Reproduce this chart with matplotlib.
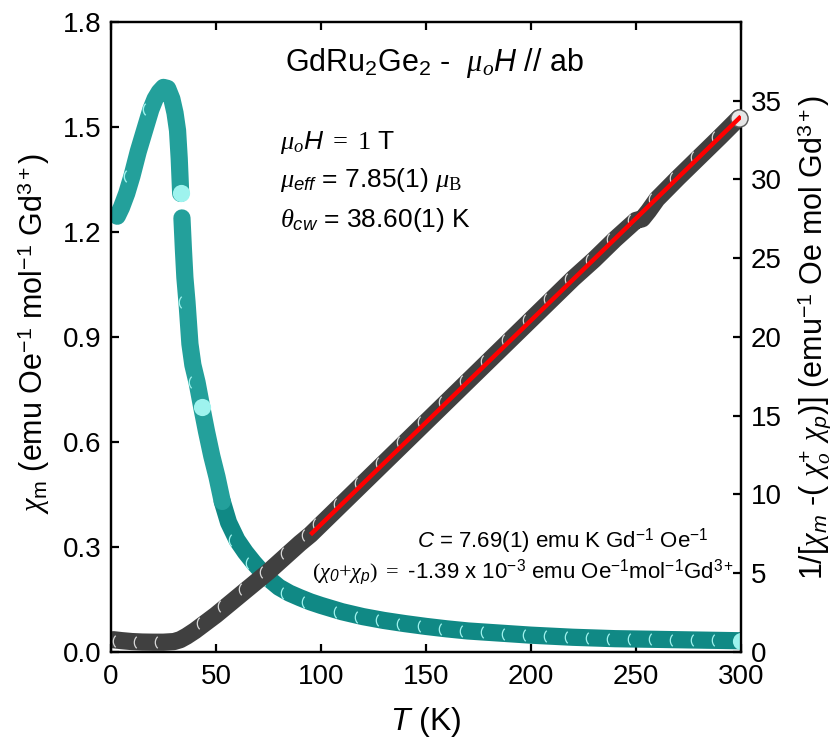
import numpy as np
import matplotlib
matplotlib.use("Agg")
import matplotlib.pyplot as plt
from matplotlib.path import Path

plt.rcParams['font.family'] = ['Liberation Sans', 'DejaVu Sans']
plt.rcParams['mathtext.fontset'] = 'custom'
plt.rcParams['mathtext.rm'] = 'Liberation Sans'
plt.rcParams['mathtext.it'] = 'Liberation Serif:italic'
plt.rcParams['mathtext.sf'] = 'Liberation Sans:italic'
plt.rcParams['mathtext.bf'] = 'Liberation Serif'

# chi_m below the ordering transition (left axis)
ord_T = [3, 5, 7.5, 10, 13, 16, 19, 21, 23, 25, 27, 29, 30.5, 31.7, 32.5, 33.2]
ord_chi = [1.245, 1.27, 1.31, 1.36, 1.43, 1.49, 1.55, 1.58, 1.60, 1.613,
           1.61, 1.58, 1.54, 1.49, 1.41, 1.31]

# chi_m above the transition (left axis)
para_T = [33.8, 34.5, 35.2, 36.2, 37.6, 39, 41, 43.2, 45.5, 48, 50.5, 53, 56,
          60, 64, 68, 72, 76, 80, 85, 90, 95, 100, 110, 120, 130, 140, 150,
          160, 170, 180, 190, 200, 210, 220, 230, 240, 250, 260, 270, 280,
          290, 300]
para_chi = [1.24, 1.15, 1.07, 1.0, 0.88, 0.82, 0.77, 0.70, 0.63, 0.56, 0.50,
            0.43, 0.37, 0.32, 0.285, 0.255, 0.228, 0.205, 0.185, 0.168, 0.155,
            0.143, 0.133, 0.115, 0.101, 0.09, 0.081, 0.073, 0.066, 0.06,
            0.056, 0.052, 0.048, 0.045, 0.042, 0.04, 0.038, 0.037, 0.036,
            0.035, 0.034, 0.033, 0.032]

# inverse susceptibility (right axis)
inv_T = [1, 5, 10, 15, 20, 25, 30, 33, 36, 40, 45, 50, 55, 60, 65, 70, 75,
         80, 85, 90, 95, 100, 110, 120, 130, 140, 150, 160, 170, 180, 190,
         200, 210, 220, 230, 240, 250, 253, 256, 260, 270, 280, 290, 299]
inv_chi = [0.78, 0.72, 0.66, 0.63, 0.62, 0.62, 0.66, 0.78, 1.0, 1.35, 1.85,
           2.35, 2.9, 3.45, 4.0, 4.55, 5.1, 5.7, 6.3, 6.9, 7.45, 8.1, 9.4,
           10.7, 12.0, 13.3, 14.6, 15.9, 17.2, 18.5, 19.8, 21.1, 22.4, 23.7,
           24.9, 26.2, 27.4, 27.5, 28.0, 28.75, 30.1, 31.4, 32.7, 33.9]

# Curie-Weiss fit
fit_T = [95, 300]
fit_inv = [7.45, 34.0]

ord_T, ord_chi = np.array(ord_T), np.array(ord_chi)
para_T, para_chi = np.array(para_T), np.array(para_chi)
inv_T, inv_chi = np.array(inv_T), np.array(inv_chi)

teal = '#108985'
teal_lt = '#23a09b'
teal_hi = '#9ef3ee'
grey = '#404040'
grey_hi = '#d9d9d9'
D = 12.4  # marker diameter in points

# "(" shaped glint drawn on the left rim of a marker
ang = np.radians(np.linspace(135, 225, 20))
glint = Path(np.column_stack([np.cos(ang), np.sin(ang)]))

fig = plt.figure(figsize=(8.4, 7.44), dpi=100)
ax = fig.add_axes([0.1321, 0.1237, 0.75, 0.8468])
ax2 = ax.twinx()

# susceptibility tube; the steep part near the transition is densely sampled
# and looks lighter
tube = dict(lw=D, solid_capstyle='round', solid_joinstyle='round', zorder=2)
steep = para_T <= 53
ax.plot(ord_T, ord_chi, color=teal_lt, **tube)
ax.plot(para_T[~steep | (para_T == 53)], para_chi[~steep | (para_T == 53)],
        color=teal, **tube)
ax.plot(para_T[steep], para_chi[steep], color=teal_lt, **tube)
ax.plot(ord_T[-1], ord_chi[-1], 'o', ms=D, mfc=teal_hi, mec='none', zorder=3)
ax.plot(para_T[[7, -1]], para_chi[[7, -1]], 'o', ms=D, mfc=teal_hi,
        mec='none', zorder=3)
ord_glint = np.isin(ord_T, [10, 19])
para_glint = np.isin(para_T, [36.2, 41, 60, 68, 76, 85, 95]) | (para_T >= 110)
ax.plot(ord_T[ord_glint], ord_chi[ord_glint], ls='none', marker=glint,
        ms=D * 0.95, mfc='none', mec=teal_hi, mew=1.0, zorder=3)
ax.plot(para_T[para_glint][:-1], para_chi[para_glint][:-1], ls='none',
        marker=glint, ms=D * 0.95, mfc='none', mec=teal_hi, mew=0.9, zorder=3)

# inverse susceptibility tube
ax2.plot(inv_T, inv_chi, color=grey, **tube)
inv_glint = ((inv_T % 10 == 5) & (inv_T < 100)) | ((inv_T >= 100) & (inv_T % 10 == 0))
ax2.plot(inv_T[inv_glint], inv_chi[inv_glint], ls='none', marker=glint,
         ms=D * 0.95, mfc='none', mec=grey_hi, mew=0.9, zorder=3)
ax2.plot(inv_T[-1], inv_chi[-1], 'o', ms=D, mfc='#e6e6e6', mec='#5a5a5a',
         mew=1.0, zorder=3, clip_on=False)
ax2.plot(fit_T, fit_inv, color='#ff0000', lw=3.2, zorder=4,
         solid_capstyle='butt')

ax.set_xlim(0, 300)
ax.set_ylim(0, 1.8)
ax2.set_ylim(0, 40)
ax.set_xticks(np.arange(0, 301, 50))
ax.set_yticks(np.arange(0, 1.81, 0.3))
ax.set_yticklabels(['%.1f' % v for v in np.arange(0, 1.81, 0.3)])
ax2.set_yticks(np.arange(0, 36, 5))

for a in (ax, ax2):
    for s in a.spines.values():
        s.set_linewidth(1.6)
ax.tick_params(direction='in', length=6, width=1.6, labelsize=20, pad=7,
               top=True)
ax.tick_params(axis='x', pad=9)
ax2.tick_params(direction='in', length=6, width=1.6, labelsize=20, pad=7)

ax.set_xlabel(r'$\mathsf{T}$ (K)', fontsize=23)
ax.xaxis.set_label_coords(0.5, -0.084)
ax.set_ylabel(r'$\chi_\mathregular{m}$ (emu Oe$^{-1}$ mol$^{-1}$ Gd$^{3+}$)',
              fontsize=22)
ax.yaxis.set_label_coords(-0.094, 0.505)
ax2.set_ylabel(r'1/[$\chi_\mathsf{m}$ -( $\chi_o^{+}$ $\chi_\mathsf{p}$)] '
               r'(emu$^{-1}$ Oe mol Gd$^{3+}$)', fontsize=22, rotation=90)
ax2.yaxis.set_label_coords(1.087, 0.5)

ax.text(0.276, 0.935, r'GdRu$_\mathregular{2}$Ge$_\mathregular{2}$ -  '
        r'$\mu_o\mathsf{H}$ // ab', transform=ax.transAxes, fontsize=22,
        ha='left', va='center')
ax.text(0.268, 0.808, r'$\mu_o\mathsf{H}\ \mathbf{=\ 1}$ T',
        transform=ax.transAxes, fontsize=19, ha='left', va='center')
ax.text(0.268, 0.749, r'$\mu_\mathsf{eff}$ = 7.85(1) $\mu_\mathbf{B}$',
        transform=ax.transAxes, fontsize=19, ha='left', va='center')
ax.text(0.268, 0.686, r'$\theta_\mathsf{cw}$ = 38.60(1) K',
        transform=ax.transAxes, fontsize=19, ha='left', va='center')
ax.text(0.948, 0.176, r'$\mathsf{C}$ = 7.69(1) emu K Gd$^{-1}$ Oe$^{-1}$',
        transform=ax.transAxes, fontsize=16, ha='right', va='center')
ax.text(0.99, 0.127, r'$\mathbf{(}\chi_\mathsf{0}\mathbf{+}\chi_\mathsf{p}'
        r'\mathbf{)\ =}$ -1.39 x 10$^{-3}$ emu Oe$^{-1}$mol$^{-1}$Gd$^{3+}$',
        transform=ax.transAxes, fontsize=16, ha='right', va='center')

fig.savefig('out.png', dpi=100)
